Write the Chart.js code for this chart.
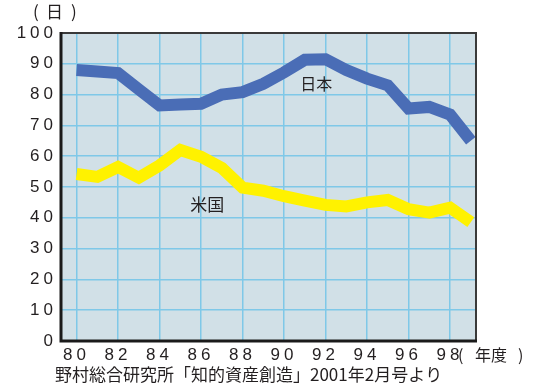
<!DOCTYPE html>
<html>
<head>
<meta charset="utf-8">
<script src="https://cdn.jsdelivr.net/npm/chart.js@4"></script>
<style>
  html, body { margin: 0; padding: 0; background: #fff; }
  #wrap { width: 538px; height: 387px; position: relative; }
</style>
</head>
<body>
<div id="wrap"><canvas id="chart"></canvas></div>
<script>
const years = [80, 81, 82, 83, 84, 85, 86, 87, 88, 89, 90, 91, 92, 93, 94, 95, 96, 97, 98, 99];
const japanDays = [88, 87.5, 87, 81.7, 76.5, 76.8, 77, 80, 80.8, 83.5, 87.2, 91.3, 91.5, 88, 85.2, 83, 75.5, 76, 73.5, 65];
const usDays = [54.2, 53.3, 56.5, 53, 57, 62, 59.8, 56.2, 49.8, 48.8, 47, 45.6, 44.2, 43.7, 45, 45.8, 42.8, 41.7, 43.3, 38.6];
const xTicks = [80, 82, 84, 86, 88, 90, 92, 94, 96, 98];
const seriesLabels = ['日本', '米国'];

const cjk = '"Noto Sans CJK JP", "Noto Sans", sans-serif';
const textColor = '#231f20';

const toPoints = vals => vals.map((v, i) => ({ x: years[i], y: v }));

const framePlugin = {
  id: 'frame',
  beforeDraw(chart) {
    const { ctx, chartArea: a } = chart;
    ctx.save();
    ctx.fillStyle = '#d1e0e7';
    ctx.fillRect(a.left, a.top, a.right - a.left, a.bottom - a.top);
    ctx.restore();
    ctx.letterSpacing = '4px';
  },
  afterDraw(chart) {
    const { ctx, chartArea: a } = chart;
    const xs = chart.scales.x, ys = chart.scales.y;
    ctx.save();
    ctx.letterSpacing = '0px';
    // frame
    ctx.strokeStyle = '#3a3a3a';
    ctx.lineWidth = 2;
    ctx.beginPath();
    ctx.moveTo(a.left, a.top);
    ctx.lineTo(a.right, a.top);
    ctx.lineTo(a.right, a.bottom);
    ctx.stroke();
    ctx.strokeStyle = '#1a1a1a';
    ctx.lineWidth = 3;
    ctx.beginPath();
    ctx.moveTo(a.left, a.top - 1);
    ctx.lineTo(a.left, a.bottom);
    ctx.lineTo(a.right + 1, a.bottom);
    ctx.stroke();

    ctx.fillStyle = textColor;
    ctx.textBaseline = 'middle';
    // series labels
    ctx.textAlign = 'center';
    ctx.font = '16px ' + cjk;
    ctx.fillText(seriesLabels[0], xs.getPixelForValue(91.55), ys.getPixelForValue(83.5));
    ctx.font = '17px ' + cjk;
    ctx.fillText(seriesLabels[1], xs.getPixelForValue(86.3), ys.getPixelForValue(44.3));

    // axis units
    ctx.textAlign = 'left';
    ctx.font = '17px ' + cjk;
    ctx.fillText('(', 33, 12);
    ctx.fillText('日', 46, 12);
    ctx.fillText(')', 71, 12);
    ctx.font = '16px ' + cjk;
    ctx.fillText('(', 458, 355);
    ctx.fillText('年度', 475, 355);
    ctx.fillText(')', 518, 355);

    // source
    ctx.font = '17px ' + cjk;
    ctx.fillText('野村総合研究所「知的資産創造」2001年2月号より', 55, 375, 390);
    ctx.restore();
  }
};

new Chart(document.getElementById('chart'), {
  type: 'line',
  data: {
    datasets: [
      {
        label: seriesLabels[0],
        data: toPoints(japanDays),
        borderColor: '#4a6db6',
        borderWidth: 12,
        borderJoinStyle: 'miter',
        borderCapStyle: 'butt',
        pointRadius: 0,
        tension: 0
      },
      {
        label: seriesLabels[1],
        data: toPoints(usDays),
        borderColor: '#fff200',
        borderWidth: 12,
        borderJoinStyle: 'miter',
        borderCapStyle: 'butt',
        pointRadius: 0,
        tension: 0
      }
    ]
  },
  options: {
    responsive: true,
    maintainAspectRatio: false,
    devicePixelRatio: 1,
    animation: false,
    layout: { padding: { left: 0, top: 33, right: 62, bottom: 0 } },
    plugins: {
      legend: { display: false },
      tooltip: { enabled: false }
    },
    scales: {
      x: {
        type: 'linear',
        min: 79.25,
        max: 99.25,
        afterBuildTicks: s => { s.ticks = xTicks.map(v => ({ value: v })); },
        afterFit: s => { s.height = 46; },
        grid: { color: '#7fc8e8', lineWidth: 1.5, drawTicks: false },
        border: { display: false },
        ticks: {
          padding: 4,
          color: textColor,
          font: { family: '"Liberation Sans", Arial, sans-serif', size: 17 },
          maxRotation: 0,
          autoSkip: false
        }
      },
      y: {
        min: 0,
        max: 100,
        afterFit: s => { s.width = 61; },
        grid: { color: '#7fc8e8', lineWidth: 1.5, drawTicks: false },
        border: { display: false },
        ticks: {
          stepSize: 10,
          padding: 4,
          color: textColor,
          font: { family: '"Liberation Sans", Arial, sans-serif', size: 17 }
        }
      }
    }
  },
  plugins: [framePlugin]
});
</script>
</body>
</html>
